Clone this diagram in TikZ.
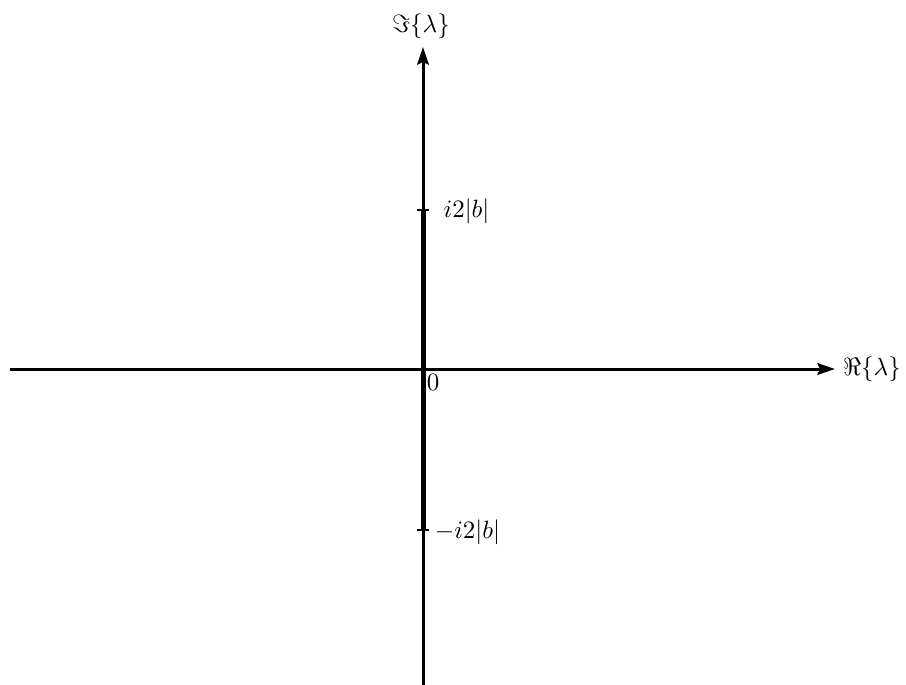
\documentclass[tikz,border=0pt]{standalone}
\usetikzlibrary{arrows.meta}
\begin{document}
\begin{tikzpicture}[x=0.4pt,y=-0.4pt,
  axis/.style={line width=1.2pt,-{Stealth[length=7pt,width=4.6pt,inset=1pt]}},
  band/.style={line width=2pt},
  tick/.style={line width=1pt},
  lbl/.style={inner sep=0pt}]
\useasboundingbox (0,0) rectangle (906,685);
\coordinate (xs) at (10,369);
\coordinate (xe) at (835,369);
\coordinate (ys) at (423,685);
\coordinate (ye) at (423,47);
\coordinate (o) at (423,369);
\coordinate (tu) at (423,210);
\coordinate (td) at (423,530);
\coordinate (tul) at (417,210);
\coordinate (tur) at (429,210);
\coordinate (tdl) at (417,530);
\coordinate (tdr) at (429,530);
\draw[axis] (xs) -- (xe);
\draw[axis] (ys) -- (ye);
\draw[band] (tu) -- (td);
\draw[tick] (tul) -- (tur);
\draw[tick] (tdl) -- (tdr);
\node[lbl] (im) at (421,26) {$\Im\{\lambda\}$};
\node[lbl] (re) at (872,369) {$\Re\{\lambda\}$};
\node[lbl] (up) at (466.5,211) {$i2|b|$};
\node[lbl] (dn) at (467.5,532) {$-i2|b|$};
\node[lbl] (zero) at (433,382) {$0$};
\end{tikzpicture}
\end{document}
